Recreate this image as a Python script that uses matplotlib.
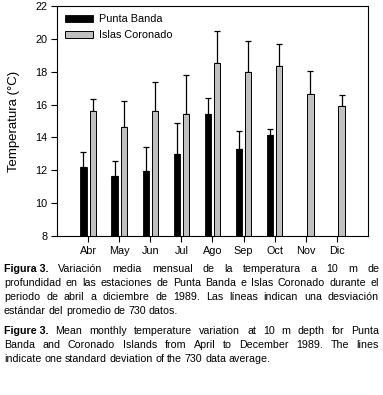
import matplotlib
matplotlib.use("Agg")
import matplotlib.pyplot as plt
import numpy as np

plt.rcParams['font.family'] = ['Liberation Sans', 'DejaVu Sans']

# --- datos ---
meses = ["Abr", "May", "Jun", "Jul", "Ago", "Sep", "Oct", "Nov", "Dic"]
punta_banda = [12.2, 11.65, 11.97, 13.0, 15.41, 13.28, 14.13, np.nan, np.nan]
punta_banda_sd = [0.9, 0.92, 1.43, 1.88, 1.0, 1.14, 0.41, np.nan, np.nan]
islas_coronado = [15.6, 14.66, 15.63, 15.45, 18.56, 17.97, 18.37, 16.67, 15.94]
islas_coronado_sd = [0.75, 1.58, 1.77, 2.32, 1.94, 1.93, 1.34, 1.4, 0.65]

W, H = 383, 395
fig = plt.figure(figsize=(W / 100, H / 100), dpi=100)
ax = fig.add_axes([57 / W, 1 - 236 / H, 311 / W, 230 / H])

fs = 7.8

x = np.arange(1, len(meses) + 1)
ancho = 0.2
off = 0.15

ax.bar(x - off, punta_banda, ancho, color="black", edgecolor="black", lw=0.6,
       label="Punta Banda", zorder=2)
ax.bar(x + off, islas_coronado, ancho, color="#c0c0c0", edgecolor="black", lw=0.7,
       label="Islas Coronado", zorder=2)

pb = np.array(punta_banda)
pb_sd = np.array(punta_banda_sd)
ic = np.array(islas_coronado)
ic_sd = np.array(islas_coronado_sd)
ax.errorbar(x - off, pb, yerr=[np.zeros_like(pb_sd), pb_sd], fmt="none",
            ecolor="black", elinewidth=0.9, capsize=2.5, capthick=0.9, zorder=1)
ax.errorbar(x + off, ic, yerr=[np.zeros_like(ic_sd), ic_sd], fmt="none",
            ecolor="black", elinewidth=0.9, capsize=2.5, capthick=0.9, zorder=1)

ax.set_xlim(0, 10)
ax.set_ylim(8, 22)
ax.set_yticks(np.arange(8, 23, 2))
ax.set_xticks(x)
ax.set_xticklabels(meses)
ax.tick_params(axis="both", direction="out", length=4, width=0.8, labelsize=fs, pad=3)
for s in ax.spines.values():
    s.set_linewidth(0.8)
ax.set_ylabel("Temperatura (°C)", fontsize=9.5)
ax.yaxis.set_label_coords(-0.118, 0.5)

ax.legend(loc="upper left", frameon=False, fontsize=fs, handlelength=2.6,
          handleheight=0.55, handletextpad=0.55, labelspacing=0.55,
          borderaxespad=0.35, bbox_to_anchor=(0.0, 1.0))

# --- pie de figura, justificado ---
lineas = [
    ("Figura 3.", "Variación media mensual de la temperatura a 10 m de", True),
    ("", "profundidad en las estaciones de Punta Banda e Islas Coronado durante el", True),
    ("", "periodo de abril a diciembre de 1989. Las líneas indican una desviación", True),
    ("", "estándar del promedio de 730 datos.", False),
    ("Figure 3.", "Mean monthly temperature variation at 10 m depth for Punta", True),
    ("", "Banda and Coronado Islands from April to December 1989. The lines", True),
    ("", "indicate one standard deviation of the 730 data average.", False),
]
bases = [272.3, 286.3, 300.0, 313.5, 334.5, 348.0, 361.5]
x0, x1 = 4, 379
fs_cap = 7.7

renderer = fig.canvas.get_renderer()
for (negrita, resto, justif), yb in zip(lineas, bases):
    palabras = []
    if negrita:
        palabras.append((negrita, "bold"))
    palabras += [(p, "normal") for p in resto.split()]
    objs = []
    for p, w in palabras:
        t = fig.text(0, 1 - yb / H, p, fontsize=fs_cap, fontweight=w,
                     va="baseline", ha="left")
        objs.append(t)
    anchos = [t.get_window_extent(renderer).width for t in objs]
    esp = fs_cap * 100 / 72 * 0.25
    if justif and len(objs) > 1:
        esp = (x1 - x0 - sum(anchos)) / (len(objs) - 1)
    xp = x0
    for t, a in zip(objs, anchos):
        t.set_x(xp / W)
        xp += a + esp

fig.savefig("out.png", dpi=100)
